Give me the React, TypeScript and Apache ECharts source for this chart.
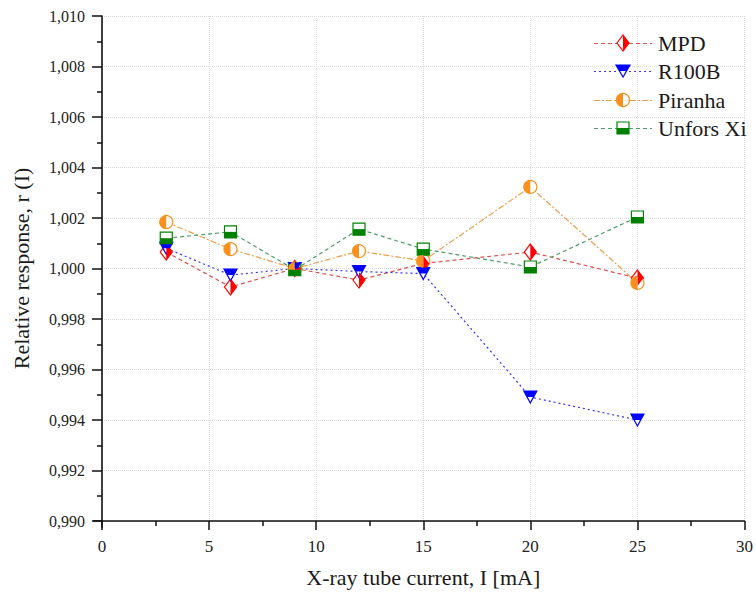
import React, { useEffect, useRef } from "react";
import * as echarts from "echarts";

const currents = [3, 6, 9, 12, 15, 20, 25];
const mpd = [1.00065, 0.99927, 1.0, 0.99954, 1.0002, 1.00065, 0.99962];
const r100b = [1.0008, 0.99974, 1.0, 0.99988, 0.9998, 0.99491, 0.994];
const piranha = [1.00184, 1.00077, 1.0, 1.00069, 1.0003, 1.00323, 0.99943];
const unfors = [1.0012, 1.00145, 0.99995, 1.00156, 1.00077, 1.00006, 1.00204];
const seriesNames = ["MPD", "R100B", "Piranha", "Unfors Xi"];
const xTicks = { min: 0, max: 30, interval: 5 };
const yTicks = { min: 0.99, max: 1.01, interval: 0.002 };

const FONT = "'Liberation Serif', 'Times New Roman', serif";

function pairs(ys: number[]) {
  return currents.map((x, i) => [x, ys[i]]);
}

export default function App() {
  const ref = useRef<HTMLDivElement>(null);
  useEffect(() => {
    if (!ref.current) return;
    const chart = echarts.init(ref.current, undefined, { renderer: "svg" });
    const red = "#ff0000";
    const blue = "#0000ff";
    const orange = "#f7901e";
    const green = "#008000";
    const lineColors = ["#d9534f", "#3535f0", "#e8a050", "#4f9a6a"];
    const dashes: any[] = [[4, 3], [2, 3], [6, 2, 2, 2], [4, 3]];

    const main = (name: string, data: number[], color: string, lineColor: string, symbol: string, size: any, dash: any, rotate = 0) => ({
      name,
      type: "line",
      data: pairs(data),
      symbol,
      symbolSize: size,
      symbolRotate: rotate,
      showSymbol: true,
      lineStyle: { color: lineColor, width: 1.2, type: dash },
      itemStyle: { color: "#ffffff", borderColor: color, borderWidth: 1.2 },
      z: 2,
    });
    const overlay = (name: string, data: number[], color: string, symbol: string, size: any, offset: any) => ({
      name: name + "_fill",
      type: "line",
      data: pairs(data),
      symbol,
      symbolSize: size,
      symbolOffset: offset,
      showSymbol: true,
      silent: true,
      lineStyle: { opacity: 0, width: 0 },
      itemStyle: { color, borderWidth: 0 },
      z: 3,
    });

    // hand-drawn legend (half-filled markers like the reference)
    const lx0 = 594;
    const lx1 = 652;
    const cx = (lx0 + lx1) / 2;
    const rows = [43, 71, 100, 128];
    const outline = (c: string) => ({ fill: "#ffffff", stroke: c, lineWidth: 1.2 });
    const legendEls: any[] = [];
    seriesNames.forEach((name, i) => {
      const y = rows[i];
      legendEls.push({
        type: "line",
        shape: { x1: lx0, y1: y + 0.5, x2: lx1, y2: y + 0.5 },
        style: { stroke: lineColors[i], lineWidth: 1.2, lineDash: dashes[i] },
      });
      legendEls.push({
        type: "text",
        x: 658,
        y,
        style: { text: name, fontFamily: FONT, fontSize: 22, fill: "#1a1a1a", verticalAlign: "middle", align: "left" },
      });
    });
    // MPD diamond
    legendEls.push({ type: "polygon", shape: { points: [[cx, rows[0] - 8], [cx + 6, rows[0]], [cx, rows[0] + 8], [cx - 6, rows[0]]] }, style: outline(red) });
    legendEls.push({ type: "polygon", shape: { points: [[cx, rows[0] - 8], [cx + 6, rows[0]], [cx, rows[0] + 8]] }, style: { fill: red } });
    // R100B triangle (down)
    legendEls.push({ type: "polygon", shape: { points: [[cx - 7, rows[1] - 6], [cx + 7, rows[1] - 6], [cx, rows[1] + 6]] }, style: outline(blue) });
    legendEls.push({ type: "polygon", shape: { points: [[cx - 7, rows[1] - 6], [cx + 7, rows[1] - 6], [cx + 3.5, rows[1]], [cx - 3.5, rows[1]]] }, style: { fill: blue } });
    // Piranha circle
    legendEls.push({ type: "circle", shape: { cx, cy: rows[2], r: 6.5 }, style: outline(orange) });
    legendEls.push({ type: "sector", shape: { cx, cy: rows[2], r: 6.5, startAngle: Math.PI / 2, endAngle: (Math.PI * 3) / 2 }, style: { fill: orange } });
    // Unfors square
    legendEls.push({ type: "rect", shape: { x: cx - 6, y: rows[3] - 6, width: 12, height: 12 }, style: outline(green) });
    legendEls.push({ type: "rect", shape: { x: cx - 6, y: rows[3], width: 12, height: 6 }, style: { fill: green } });

    chart.setOption({
      animation: false,
      backgroundColor: "#ffffff",
      grid: { left: 102, right: 8, top: 16, bottom: 76, containLabel: false },
      graphic: [
        ...legendEls.map((g) => ({ ...g, z: 100, silent: true })),
        { type: "line", shape: { x1: 93, y1: 521, x2: 102, y2: 521 }, style: { stroke: "#111", lineWidth: 1.5 }, z: 50 },
        { type: "line", shape: { x1: 102, y1: 521, x2: 102, y2: 528 }, style: { stroke: "#111", lineWidth: 1.5 }, z: 50 },
      ],
      xAxis: {
        type: "value",
        min: xTicks.min,
        max: xTicks.max,
        interval: xTicks.interval,
        name: "X-ray tube current, I [mA]",
        nameLocation: "middle",
        nameGap: 45,
        nameTextStyle: { fontFamily: FONT, fontSize: 22, color: "#1a1a1a" },
        axisLine: { onZero: false, lineStyle: { color: "#111", width: 1.6 } },
        axisTick: { show: true, inside: false, length: 9, lineStyle: { color: "#111", width: 1.5 } },
        minorTick: { show: true, splitNumber: 2, length: 5, lineStyle: { color: "#111", width: 1.5 } },
        axisLabel: { fontFamily: FONT, fontSize: 17, color: "#222", margin: 17 },
        splitLine: { show: true, lineStyle: { color: "#dcdcdc", type: "dotted", width: 1 } },
      },
      yAxis: {
        type: "value",
        min: yTicks.min,
        max: yTicks.max,
        interval: yTicks.interval,
        name: "Relative response, r (I)",
        nameLocation: "middle",
        nameGap: 70,
        nameTextStyle: { fontFamily: FONT, fontSize: 22, color: "#1a1a1a" },
        axisLine: { show: true, onZero: false, lineStyle: { color: "#111", width: 1.6 } },
        axisTick: { show: true, inside: false, length: 10, lineStyle: { color: "#111", width: 1.5 } },
        minorTick: { show: true, splitNumber: 2, length: 5, lineStyle: { color: "#111", width: 1.5 } },
        axisLabel: {
          fontFamily: FONT,
          fontSize: 16,
          color: "#222",
          margin: 17,
          formatter: (v: number) => v.toFixed(3).replace(".", ","),
        },
        splitLine: { show: true, lineStyle: { color: "#dcdcdc", type: "dotted", width: 1 } },
      },
      series: [
        main("MPD", mpd, red, lineColors[0], "diamond", [12, 16], dashes[0]),
        overlay("MPD", mpd, red, "path://M0 0 L10 10 L0 20 Z", [6, 16], [3, 0]),
        main("R100B", r100b, blue, lineColors[1], "triangle", [13, 12], dashes[1], 180),
        overlay("R100B", r100b, blue, "path://M0 0 L20 0 L15 10 L5 10 Z", [13, 6], [0, -3]),
        main("Piranha", piranha, orange, lineColors[2], "circle", 13, dashes[2]),
        overlay("Piranha", piranha, orange, "path://M10 0 A10 10 0 0 0 10 20 Z", [6.5, 13], [-3.25, 0]),
        main("Unfors Xi", unfors, green, lineColors[3], "rect", [12, 12], dashes[3]),
        overlay("Unfors Xi", unfors, green, "rect", [12, 6], [0, 3]),
      ],
    });
    return () => chart.dispose();
  }, []);
  return (
    <div
      ref={ref}
      style={{ position: "absolute", left: 0, top: 0, width: 756, height: 597 }}
    />
  );
}
